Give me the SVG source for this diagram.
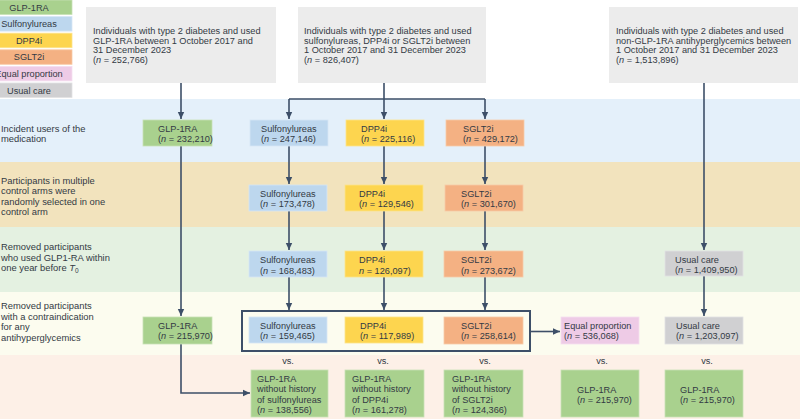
<svg xmlns="http://www.w3.org/2000/svg" width="800" height="419" viewBox="0 0 800 419">
<defs>
<marker id="ah" markerUnits="userSpaceOnUse" markerWidth="8" markerHeight="8" refX="7" refY="4" orient="auto">
<path d="M0,0.8 L7,4 L0,7.2 z" fill="#3d4f68"/>
</marker>
<style>
text{font-family:"Liberation Sans",Arial,sans-serif;font-size:9.2px;fill:#333a44}
.it{font-style:italic}
.c{text-anchor:middle}
.lab{font-size:9.4px}
.top{fill:#ececec}
.g{fill:#a9d18e;stroke:#c8e2b6;stroke-width:0.8}
.b{fill:#bdd7ee;stroke:#d6e6f5;stroke-width:0.8}
.y{fill:#fdd54f;stroke:#fde38a;stroke-width:0.8}
.o{fill:#f4b183;stroke:#f8cba8;stroke-width:0.8}
.p{fill:#eecbe6;stroke:#f5dff0;stroke-width:0.8}
.u{fill:#d0d0d2;stroke:#e2e2e3;stroke-width:0.8}
.cn{fill:none;stroke:#3d4f68;stroke-width:1.6}
</style>
</defs>
<rect x="0" y="0" width="800" height="419" fill="#ffffff"/>
<!-- bands -->
<g id="bands">
<rect x="0" y="99" width="800" height="63" fill="#e4f0fa"/>
<rect x="0" y="162" width="800" height="65" fill="#f2e3bd"/>
<rect x="0" y="227" width="800" height="65" fill="#e4f1e1"/>
<rect x="0" y="292" width="800" height="63" fill="#fcfcef"/>
<rect x="0" y="355" width="800" height="64" fill="#fdf0e7"/>
</g>
<!-- legend -->
<g id="legend">
<rect x="-14" y="0" width="86" height="14.5" class="g"/>
<text x="29" y="10.5" class="c">GLP-1RA</text>
<rect x="-14" y="16.6" width="86" height="14.5" class="b"/>
<text x="29" y="27.1" class="c">Sulfonylureas</text>
<rect x="-14" y="33.2" width="86" height="14.5" class="y"/>
<text x="29" y="43.7" class="c">DPP4i</text>
<rect x="-14" y="49.8" width="86" height="14.5" class="o"/>
<text x="29" y="60.3" class="c">SGLT2i</text>
<rect x="-14" y="66.4" width="86" height="14.5" class="p"/>
<text x="29" y="76.9" class="c">Equal proportion</text>
<rect x="-14" y="83" width="86" height="14.5" class="u"/>
<text x="29" y="93.5" class="c">Usual care</text>
</g>
<!-- row labels -->
<g id="row-labels">
<text x="1" y="131.5" class="lab">Incident users of the</text>
<text x="1" y="142" class="lab">medication</text>
<text x="1" y="183.5" class="lab">Participants in multiple</text>
<text x="1" y="194" class="lab">control arms were</text>
<text x="1" y="204.5" class="lab">randomly selected in one</text>
<text x="1" y="215" class="lab">control arm</text>
<text x="1" y="250" class="lab">Removed participants</text>
<text x="1" y="260.5" class="lab">who used GLP1-RA within</text>
<text x="1" y="271" class="lab">one year before <tspan class="it">T</tspan><tspan font-size="6.5" dy="2">0</tspan></text>
<text x="1" y="309" class="lab">Removed participants</text>
<text x="1" y="319.5" class="lab">with a contraindication</text>
<text x="1" y="330" class="lab">for any</text>
<text x="1" y="340.5" class="lab">antihyperglycemics</text>
</g>
<!-- connectors -->
<g id="connectors">
<path class="cn" d="M181 83 V119" marker-end="url(#ah)"/>
<path class="cn" d="M384 83 V99 M289 99 H485"/>
<path class="cn" d="M289 99 V119" marker-end="url(#ah)"/>
<path class="cn" d="M384 99 V119" marker-end="url(#ah)"/>
<path class="cn" d="M485 99 V119" marker-end="url(#ah)"/>
<path class="cn" d="M704 83 V250" marker-end="url(#ah)"/>
<path class="cn" d="M181 146 V316" marker-end="url(#ah)"/>
<path class="cn" d="M289 146 V184" marker-end="url(#ah)"/>
<path class="cn" d="M384 146 V184" marker-end="url(#ah)"/>
<path class="cn" d="M485 146 V184" marker-end="url(#ah)"/>
<path class="cn" d="M289 211 V250" marker-end="url(#ah)"/>
<path class="cn" d="M384 211 V250" marker-end="url(#ah)"/>
<path class="cn" d="M485 211 V250" marker-end="url(#ah)"/>
<path class="cn" d="M289 277 V310" marker-end="url(#ah)"/>
<path class="cn" d="M384 277 V310" marker-end="url(#ah)"/>
<path class="cn" d="M485 277 V310" marker-end="url(#ah)"/>
<path class="cn" d="M704 276 V316" marker-end="url(#ah)"/>
<path class="cn" d="M530 331.5 H560" marker-end="url(#ah)"/>
<path class="cn" d="M181 344 V393 H250" marker-end="url(#ah)"/>
<rect x="242" y="311" width="288" height="40" fill="none" stroke="#3d4f68" stroke-width="2"/>
</g>
<!-- top boxes -->
<g id="src-glp1ra">
<rect x="86" y="7" width="190" height="76" class="top"/>
<text x="93" y="34">Individuals with type 2 diabetes and used</text>
<text x="93" y="43.7">GLP-1RA between 1 October 2017 and</text>
<text x="93" y="53.4">31 December 2023</text>
<text x="93" y="63.1">(<tspan class="it">n</tspan> = 252,766)</text>
</g>
<g id="src-comparators">
<rect x="298" y="7" width="188" height="76" class="top"/>
<text x="304" y="34">Individuals with type 2 diabetes and used</text>
<text x="304" y="43.7">sulfonylureas, DPP4i or SGLT2i between</text>
<text x="304" y="53.4">1 October 2017 and 31 December 2023</text>
<text x="304" y="63.1">(<tspan class="it">n</tspan> = 826,407)</text>
</g>
<g id="src-nonglp1">
<rect x="609" y="7" width="189" height="76" class="top"/>
<text x="616" y="34">Individuals with type 2 diabetes and used</text>
<text x="616" y="43.7">non-GLP-1RA antihyperglycemics between</text>
<text x="616" y="53.4">1 October 2017 and 31 December 2023</text>
<text x="616" y="63.1">(<tspan class="it">n</tspan> = 1,513,896)</text>
</g>
<!-- row 1 -->
<g id="r1-glp1ra"><rect x="143" y="120" width="69" height="26" class="g"/>
<text x="158" y="131.5">GLP-1RA</text><text x="158" y="141.5">(<tspan class="it">n</tspan> = 232,210)</text></g>
<g id="r1-su"><rect x="250" y="120" width="78" height="26" class="b"/>
<text x="261" y="131.5">Sulfonylureas</text><text x="261" y="141.5">(<tspan class="it">n</tspan> = 247,146)</text></g>
<g id="r1-dpp4i"><rect x="346" y="120" width="78" height="26" class="y"/>
<text x="361" y="131.5">DPP4i</text><text x="361" y="141.5">(<tspan class="it">n</tspan> = 225,116)</text></g>
<g id="r1-sglt2i"><rect x="446" y="120" width="78" height="26" class="o"/>
<text x="463" y="131.5">SGLT2i</text><text x="463" y="141.5">(<tspan class="it">n</tspan> = 429,172)</text></g>
<!-- row 2 -->
<g id="r2-su"><rect x="249" y="185" width="78" height="26" class="b"/>
<text x="260" y="196.5">Sulfonylureas</text><text x="260" y="206.5">(<tspan class="it">n</tspan> = 173,478)</text></g>
<g id="r2-dpp4i"><rect x="345" y="185" width="78" height="26" class="y"/>
<text x="359" y="196.5">DPP4i</text><text x="359" y="206.5">(<tspan class="it">n</tspan> = 129,546)</text></g>
<g id="r2-sglt2i"><rect x="445" y="185" width="78" height="26" class="o"/>
<text x="461" y="196.5">SGLT2i</text><text x="461" y="206.5">(<tspan class="it">n</tspan> = 301,670)</text></g>
<!-- row 3 -->
<g id="r3-su"><rect x="249" y="251" width="78" height="26" class="b"/>
<text x="260" y="263">Sulfonylureas</text><text x="260" y="273.5">(<tspan class="it">n</tspan> = 168,483)</text></g>
<g id="r3-dpp4i"><rect x="345" y="251" width="78" height="26" class="y"/>
<text x="359" y="263">DPP4i</text><text x="359" y="273.5"><tspan class="it">n</tspan> = 126,097)</text></g>
<g id="r3-sglt2i"><rect x="444" y="251" width="79" height="26" class="o"/>
<text x="461" y="263">SGLT2i</text><text x="461" y="273.5">(<tspan class="it">n</tspan> = 273,672)</text></g>
<g id="r3-usual"><rect x="665" y="251" width="78" height="25" class="u"/>
<text x="675" y="262.5">Usual care</text><text x="675" y="273">(<tspan class="it">n</tspan> = 1,409,950)</text></g>
<!-- row 4 -->
<g id="r4-glp1ra"><rect x="143" y="317" width="69" height="27" class="g"/>
<text x="158" y="328.5">GLP-1RA</text><text x="158" y="339">(<tspan class="it">n</tspan> = 215,970)</text></g>
<g id="r4-su"><rect x="249" y="317" width="78" height="26" class="b"/>
<text x="260" y="328.5">Sulfonylureas</text><text x="260" y="339">(<tspan class="it">n</tspan> = 159,465)</text></g>
<g id="r4-dpp4i"><rect x="345" y="317" width="78" height="26" class="y"/>
<text x="360" y="328.5">DPP4i</text><text x="360" y="339">(<tspan class="it">n</tspan> = 117,989)</text></g>
<g id="r4-sglt2i"><rect x="444" y="317" width="79" height="27" class="o"/>
<text x="461" y="328.5">SGLT2i</text><text x="461" y="339">(<tspan class="it">n</tspan> = 258,614)</text></g>
<g id="r4-equal"><rect x="561" y="317" width="78" height="27" class="p"/>
<text x="564" y="328.5">Equal proportion</text><text x="564" y="339">(<tspan class="it">n</tspan> = 536,068)</text></g>
<g id="r4-usual"><rect x="665" y="317" width="78" height="27" class="u"/>
<text x="676" y="328.5">Usual care</text><text x="676" y="339">(<tspan class="it">n</tspan> = 1,203,097)</text></g>
<!-- vs labels -->
<g id="vs-labels">
<text x="288" y="364" class="c">vs.</text>
<text x="383" y="364" class="c">vs.</text>
<text x="485" y="364" class="c">vs.</text>
<text x="602" y="364" class="c">vs.</text>
<text x="707" y="364" class="c">vs.</text>
</g>
<!-- bottom row -->
<g id="b-su"><rect x="251" y="370" width="77" height="47" class="g"/>
<text x="257" y="381.5">GLP-1RA</text><text x="257" y="392">without history</text><text x="257" y="402.5">of sulfonylureas</text><text x="257" y="413">(<tspan class="it">n</tspan> = 138,556)</text></g>
<g id="b-dpp4i"><rect x="345" y="370" width="79" height="47" class="g"/>
<text x="352" y="381.5">GLP-1RA</text><text x="352" y="392">without history</text><text x="352" y="402.5">of DPP4i</text><text x="352" y="413">(<tspan class="it">n</tspan> = 161,278)</text></g>
<g id="b-sglt2i"><rect x="444" y="370" width="79" height="47" class="g"/>
<text x="452" y="381.5">GLP-1RA</text><text x="452" y="392">without history</text><text x="452" y="402.5">of SGLT2i</text><text x="452" y="413">(<tspan class="it">n</tspan> = 124,366)</text></g>
<g id="b-equal"><rect x="561" y="370" width="78" height="47" class="g"/>
<text x="577" y="392.5">GLP-1RA</text><text x="577" y="403">(<tspan class="it">n</tspan> = 215,970)</text></g>
<g id="b-usual"><rect x="665" y="370" width="78" height="47" class="g"/>
<text x="680" y="392.5">GLP-1RA</text><text x="680" y="403">(<tspan class="it">n</tspan> = 215,970)</text></g>
</svg>
